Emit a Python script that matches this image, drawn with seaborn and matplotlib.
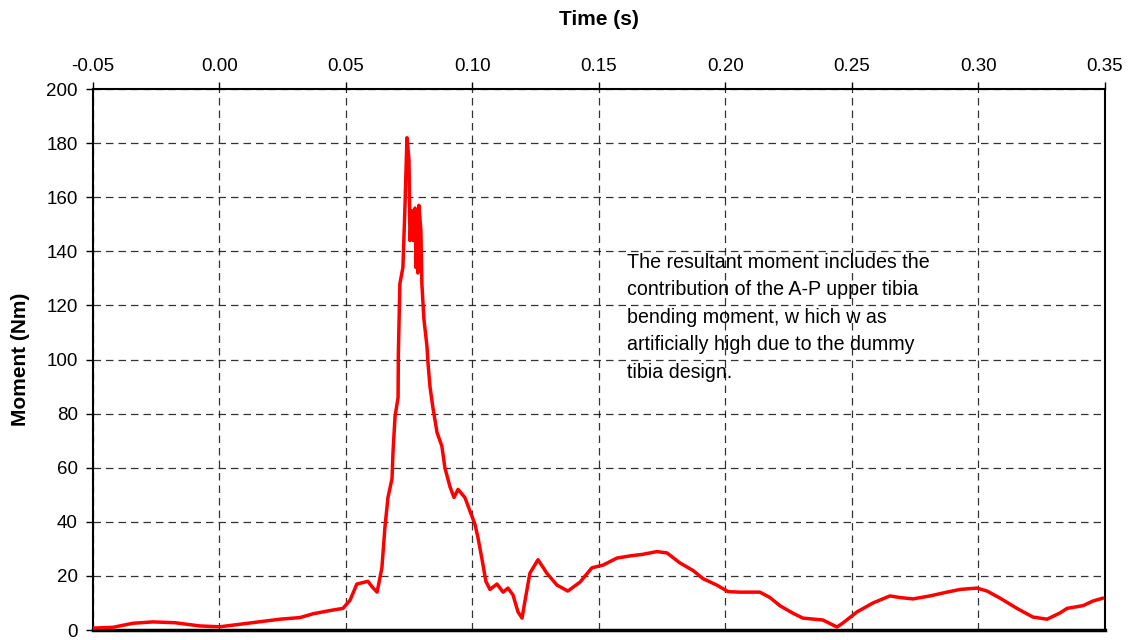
import matplotlib
matplotlib.use("Agg")
import matplotlib.pyplot as plt
import seaborn as sns
import pandas as pd

time_s = [-0.0500, -0.0421, -0.0342, -0.0263, -0.0176, -0.0077, 0.0002, 0.0121, 0.0239, 0.0318,
          0.0370, 0.0437, 0.0488, 0.0516, 0.0543, 0.0587, 0.0603, 0.0623, 0.0642, 0.0654,
          0.0666, 0.0682, 0.0686, 0.0694, 0.0706, 0.0707, 0.0713, 0.0725, 0.0733, 0.0741,
          0.0749, 0.0753, 0.0761, 0.0765, 0.0773, 0.0777, 0.0781, 0.0784, 0.0788, 0.0796,
          0.0800, 0.0808, 0.0820, 0.0824, 0.0832, 0.0844, 0.0860, 0.0879, 0.0891, 0.0911,
          0.0927, 0.0943, 0.0970, 0.0990, 0.1010, 0.1022, 0.1038, 0.1053, 0.1069, 0.1097,
          0.1121, 0.1140, 0.1160, 0.1180, 0.1196, 0.1208, 0.1227, 0.1259, 0.1294, 0.1334,
          0.1377, 0.1425, 0.1472, 0.1516, 0.1571, 0.1623, 0.1674, 0.1729, 0.1769, 0.1820,
          0.1872, 0.1911, 0.1966, 0.2010, 0.2057, 0.2136, 0.2176, 0.2215, 0.2267, 0.2306,
          0.2385, 0.2441, 0.2464, 0.2520, 0.2583, 0.2650, 0.2690, 0.2741, 0.2808, 0.2875,
          0.2927, 0.2994, 0.3034, 0.3085, 0.3152, 0.3215, 0.3271, 0.3322, 0.3350, 0.3413,
          0.3452, 0.3492]
moment_nm = [0.7, 1.0, 2.5, 3.0, 2.7, 1.5, 1.2, 2.6, 4.0, 4.6,
             6.0, 7.2, 8.0, 11, 17, 18, 16, 14, 23, 38,
             49, 56, 66, 79, 86, 102, 128, 134, 156, 182,
             174, 144, 155, 144, 156, 134, 148, 132, 157, 148,
             128, 115, 105, 99, 90, 82, 73, 68, 60, 53,
             49, 52, 49, 44, 39, 34, 26, 18, 15, 17,
             14, 15.5, 13, 6.7, 4.4, 11, 21, 26, 21, 16.6,
             14.4, 17.7, 23, 24, 26.6, 27.4, 28, 29, 28.5, 24.8,
             22, 19, 16.6, 14.2, 14, 14, 12, 9, 6.2, 4.4,
             3.7, 1.1, 2.6, 6.7, 10, 12.6, 12, 11.5, 12.6, 14,
             15, 15.5, 14.4, 11.8, 8, 4.8, 4, 6.3, 8, 9,
             10.7, 11.8]

x_ticks = [-0.05, 0.00, 0.05, 0.10, 0.15, 0.20, 0.25, 0.30, 0.35]
y_ticks = [0, 20, 40, 60, 80, 100, 120, 140, 160, 180, 200]
note = ("The resultant moment includes the\n"
        "contribution of the A-P upper tibia\n"
        "bending moment, w hich w as\n"
        "artificially high due to the dummy\n"
        "tibia design.")

sns.set_theme(style="white")
plt.rcParams["font.family"] = ["Liberation Sans", "DejaVu Sans"]

df = pd.DataFrame({"Time (s)": time_s, "Moment (Nm)": moment_nm})

fig = plt.figure(figsize=(11.31, 6.40), dpi=100)
ax = fig.add_axes([0.0822, 0.0156, 0.8948, 0.8453])
sns.lineplot(data=df, x="Time (s)", y="Moment (Nm)", ax=ax, color="#ff0000",
             linewidth=2.5, zorder=3)

ax.set_xlim(-0.05, 0.35)
ax.set_ylim(0, 200)
ax.set_xticks(x_ticks)
ax.set_xticklabels([f"{v:.2f}" for v in x_ticks])
ax.set_yticks(y_ticks)
ax.xaxis.tick_top()
ax.xaxis.set_label_position("top")
ax.tick_params(axis="x", which="both", top=True, bottom=False, direction="out",
               length=5, width=1, color="black", labelcolor="black",
               labelsize=13.5, pad=5)
ax.tick_params(axis="y", which="both", left=True, direction="out",
               length=5, width=1, color="black", labelcolor="black",
               labelsize=13.5, pad=6)
ax.set_xlabel("Time (s)", fontsize=15, fontweight="bold", labelpad=24,
              color="black")
ax.set_ylabel("Moment (Nm)", fontsize=15, fontweight="bold", labelpad=12,
              color="black")

ax.grid(True, color="black", linestyle=(0, (6, 4)), linewidth=0.9, alpha=0.8)
ax.set_axisbelow(True)
for side in ["left", "right", "top"]:
    ax.spines[side].set_color("black")
    ax.spines[side].set_linewidth(1.5)
ax.spines["bottom"].set_color("black")
ax.spines["bottom"].set_linewidth(2.5)

ax.text(0.1611, 139.5, note, fontsize=14.1, va="top", ha="left",
        linespacing=1.57, color="black", zorder=4)

fig.savefig("out.png", dpi=100)
